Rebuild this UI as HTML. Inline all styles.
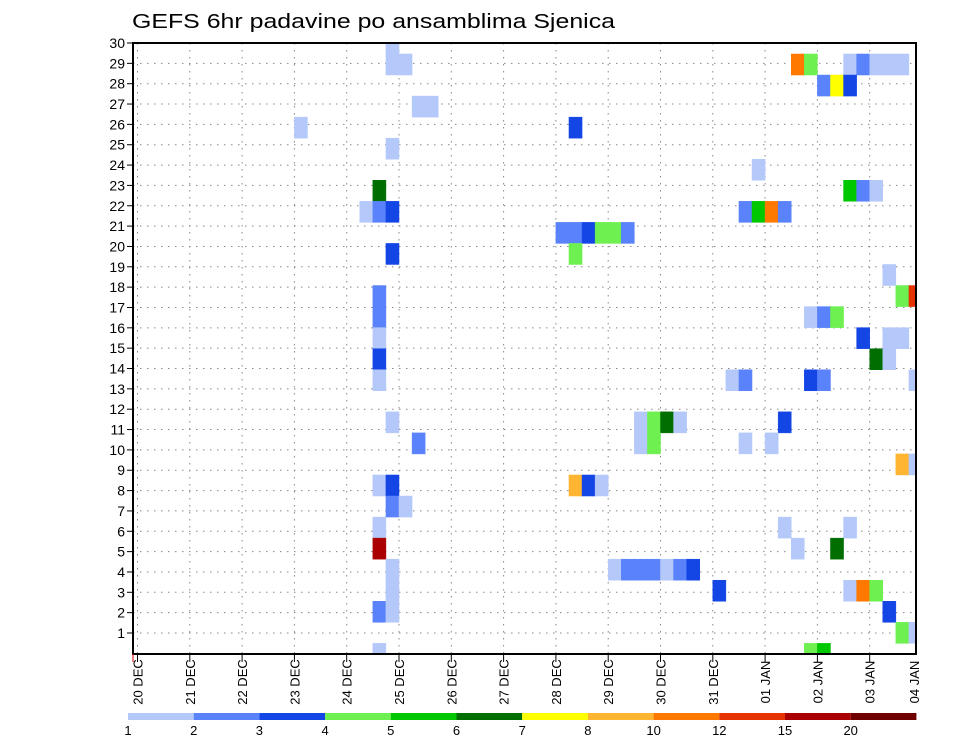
<!DOCTYPE html>
<html><head><meta charset="utf-8">
<style>
html,body{margin:0;padding:0;background:#fff;}
svg{display:block;font-family:"Liberation Sans",sans-serif;}
</style></head>
<body>
<svg id="chart" width="960" height="742" viewBox="0 0 960 742" xmlns="http://www.w3.org/2000/svg">
<text x="132" y="28" font-size="20" textLength="483" lengthAdjust="spacingAndGlyphs" fill="#000">GEFS 6hr padavine po ansamblima Sjenica</text>
<g id="grid"></g>
<g id="cells"></g>
<g id="axes"></g>
<g id="legend"></g>
</svg>
<script>
const dayLabels = ["20 DEC","21 DEC","22 DEC","23 DEC","24 DEC","25 DEC","26 DEC","27 DEC","28 DEC","29 DEC","30 DEC","31 DEC","01 JAN","02 JAN","03 JAN","04 JAN"];
const yTicks = [1,2,3,4,5,6,7,8,9,10,11,12,13,14,15,16,17,18,19,20,21,22,23,24,25,26,27,28,29,30];
const levelBounds = [1,2,3,4,5,6,7,8,10,12,15,20];
const levelColors = ["#b4c8fa","#5a82fa","#1446e6","#6ef050","#00c800","#006e00","#ffff00","#ffb432","#ff7800","#e63200","#aa0000","#6e0000"];
// each cell: member row, 6h step index from 20 DEC 00Z, precipitation level
const cellMembers = [
30,
29,29,29,29,29,29,29,29,29,
28,28,28,
27,27,
26,26,
25,
24,
23,23,23,23,
22,22,22,22,22,22,22,
21,21,21,21,21,21,
20,20,
19,
18,18,18,
17,17,17,17,
16,16,16,16,
15,15,15,
14,14,14,14,14,14,
12,12,12,12,12,12,
11,11,11,11,11,
10,10,
9,9,9,9,9,
8,8,
7,7,7,
6,6,6,
5,5,5,5,5,5,5,5,
4,4,4,4,4,
3,3,3,
2,2,
1,1,1];
const cellSteps = [
19,
19,20,50,51,54,55,56,57,58,
52,53,54,
21,22,
12,33,
19,
47,
18,54,55,56,
17,18,19,46,47,48,49,
32,33,34,35,36,37,
19,33,
57,
18,58,59,
18,51,52,53,
18,55,57,58,
18,56,57,
18,45,46,51,52,59,
19,38,39,40,41,49,
21,38,39,46,48,
58,59,
18,19,33,34,35,
19,20,
18,49,54,
18,50,53,
19,36,37,38,39,40,41,42,
19,44,54,55,56,
18,19,57,
58,59,
18,51,52];
const cellLevels = [
1,
1,1,10,4,1,2,1,1,1,
2,7,3,
1,1,
1,3,
1,
1,
6,5,2,1,
1,2,3,2,5,10,2,
2,2,3,4,4,2,
3,4,
1,
2,4,12,
2,1,2,4,
1,3,1,1,
3,6,1,
1,1,2,3,2,1,
1,1,4,6,1,3,
2,1,4,1,1,
8,1,
1,3,8,3,1,
2,1,
1,1,1,
15,1,6,
1,1,2,2,2,1,2,3,
1,3,1,10,4,
2,1,3,
4,1,
1,4,5];

const NS="http://www.w3.org/2000/svg";
const L=133,R=916,T=43,B=654;
const X0=137.5, DAY=52.3;
function xDay(d){return X0+d*DAY;}
function xStep(k){return X0+k*DAY/4;}
function yRow(r){return T+(30-r)*(590/29);}
const CH=21.05;
function yCell(m){return 64.5+(29-m)*CH;}
function mk(tag,attrs,parent){const e=document.createElementNS(NS,tag);for(const a in attrs)e.setAttribute(a,attrs[a]);parent.appendChild(e);return e;}
function colorFor(v){let i=levelBounds.length-1;while(i>0&&v<levelBounds[i])i--;return levelColors[i];}

const grid=document.getElementById('grid');
yTicks.forEach(r=>{ if(r===30) return;
  const y=yRow(r);
  const l=mk('line',{x1:L,x2:R,y1:y,y2:y,stroke:'#888','stroke-width':1,'stroke-dasharray':'1.5,5.5'},grid);
  
  
});
dayLabels.forEach((d,i)=>{ const x=xDay(i); if(x>R) return;
  const l=mk('line',{x1:x,x2:x,y1:T,y2:B,stroke:'#888','stroke-width':1,'stroke-dasharray':'1.5,5.5'},grid);
  
  
});

const cells=document.getElementById('cells');
const defs=mk('defs',{},document.getElementById('chart'));
const cp=mk('clipPath',{id:'plotclip'},defs);
mk('rect',{x:L,y:T,width:R-L,height:B-T},cp);
cells.setAttribute('clip-path','url(#plotclip)');
const n=Math.min(cellMembers.length,cellSteps.length,cellLevels.length);
for(let i=0;i<n;i++){
  const x=xStep(cellSteps[i]), w=DAY/4, yc=yCell(cellMembers[i]);
  const c=colorFor(cellLevels[i]);
  const r=mk('rect',{x:x,y:yc-CH/2,width:w,height:CH,fill:c,stroke:c,'stroke-width':0.5},cells);
  
  
}

const axes=document.getElementById('axes');
const fr=mk('rect',{x:L,y:T,width:R-L,height:B-T,fill:'none',stroke:'#000','stroke-width':2},axes);


yTicks.forEach(r=>{
  const y=yRow(r);
  mk('line',{x1:127,x2:L,y1:y,y2:y,stroke:'#000','stroke-width':1},axes);
  const t=mk('text',{x:125,y:y+5,'font-size':14,'text-anchor':'end',fill:'#000'},axes);
  t.textContent=r;
  
  
});
dayLabels.forEach((d,i)=>{
  const x=Math.min(xDay(i),R-2);
  if(xDay(i)<=R) mk('line',{x1:x,x2:x,y1:B,y2:B+8,stroke:'#000','stroke-width':1},axes);
  const t=mk('text',{x:0,y:0,'font-size':13,'text-anchor':'middle',fill:'#000',transform:'translate('+(x+5)+',682) rotate(-90)'},axes);
  t.textContent=d;
  
  
});
mk('line',{x1:L,x2:L,y1:B,y2:B+8,stroke:'#d00','stroke-width':1},axes);

const legend=document.getElementById('legend');
const LX=128, LW=65.7;
levelColors.forEach((c,i)=>{
  const r=mk('rect',{x:LX+i*LW,y:713,width:LW,height:7,fill:c},legend);
  
  
  const t=mk('text',{x:LX+i*LW,y:735,'font-size':13,'text-anchor':'middle',fill:'#000'},legend);
  t.textContent=levelBounds[i];
  
  
});
</script>
</body></html>
